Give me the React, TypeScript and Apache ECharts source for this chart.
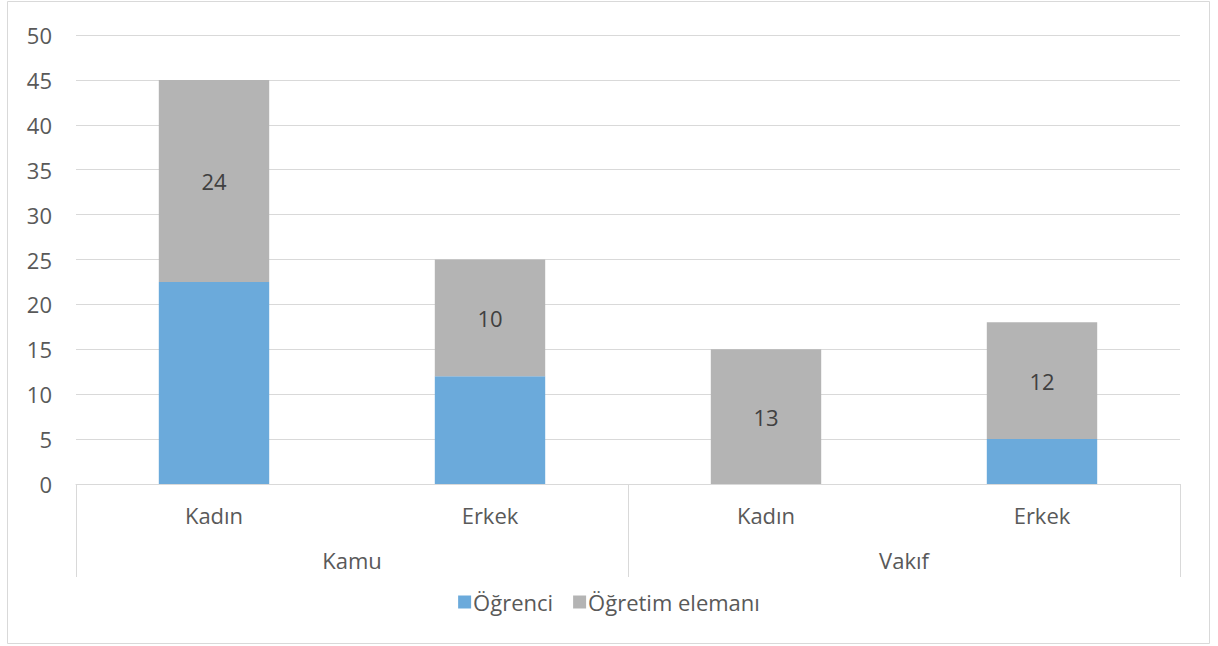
import React, { useEffect, useRef } from "react";
import * as echarts from "echarts";

const subCategories = ["Kadın", "Erkek", "Kadın", "Erkek"];
const groupCategories = ["Kamu", "Vakıf"];
const ogrenci = [22.5, 12, 0, 5];
const ogretimElemani = [22.5, 13, 15, 13];
const ogretimLabels = [24, 10, 13, 12];

const FONT = "Open Sans";
const TXT = "#595959";
const FS = 22;

export default function App() {
  const ref = useRef<HTMLDivElement>(null);
  useEffect(() => {
    if (!ref.current) return;
    const chart = echarts.init(ref.current, undefined, { renderer: "svg" });
    chart.setOption({
      animation: false,
      textStyle: { fontFamily: FONT },
      graphic: [
        {
          type: "rect",
          shape: { x: 7.5, y: 1.5, width: 1202, height: 642 },
          style: { fill: "none", stroke: "#d9d9d9", lineWidth: 1 },
          silent: true,
        },
      ],
      grid: { left: 76, right: 38, top: 35, bottom: 162, outerBoundsMode: "none" },
      legend: {
        top: 586,
        left: "center",
        icon: "rect",
        itemWidth: 13,
        itemHeight: 13,
        itemGap: 20,
        textStyle: { fontFamily: FONT, fontSize: FS, color: TXT, padding: [0, 0, 0, -3] },
        data: ["Öğrenci", "Öğretim elemanı"],
      },
      xAxis: [
        {
          type: "category",
          data: subCategories,
          position: "bottom",
          axisLine: { show: true, lineStyle: { color: "#d9d9d9", width: 1 } },
          axisTick: { show: false },
          axisLabel: { fontFamily: FONT, fontSize: FS, color: TXT, margin: 20 },
        },
        {
          type: "category",
          data: groupCategories,
          position: "bottom",
          axisLine: { show: false },
          axisTick: { show: true, length: 93, lineStyle: { color: "#d9d9d9", width: 1 } },
          axisLabel: { fontFamily: FONT, fontSize: FS, color: TXT, margin: 65 },
        },
      ],
      yAxis: {
        type: "value",
        min: 0,
        max: 50,
        interval: 5,
        axisLine: { show: false },
        axisTick: { show: false },
        splitLine: { lineStyle: { color: "#d9d9d9", width: 1 } },
        axisLabel: { fontFamily: FONT, fontSize: FS, color: TXT, margin: 24 },
      },
      series: [
        {
          name: "Öğrenci",
          type: "bar",
          stack: "total",
          xAxisIndex: 0,
          barWidth: "40%",
          data: ogrenci,
          itemStyle: { color: "#6baadb" },
        },
        {
          name: "Öğretim elemanı",
          type: "bar",
          stack: "total",
          xAxisIndex: 0,
          barWidth: "40%",
          data: ogretimElemani,
          itemStyle: { color: "#b4b4b4" },
          label: {
            show: true,
            position: "inside",
            fontFamily: FONT,
            fontSize: FS,
            color: "#404040",
            formatter: (p: any) => String(ogretimLabels[p.dataIndex]),
          },
        },
      ],
    });
    return () => chart.dispose();
  }, []);
  return (
    <div
      ref={ref}
      style={{ position: "absolute", left: 0, top: 0, width: 1218, height: 646, background: "#fff" }}
    />
  );
}
